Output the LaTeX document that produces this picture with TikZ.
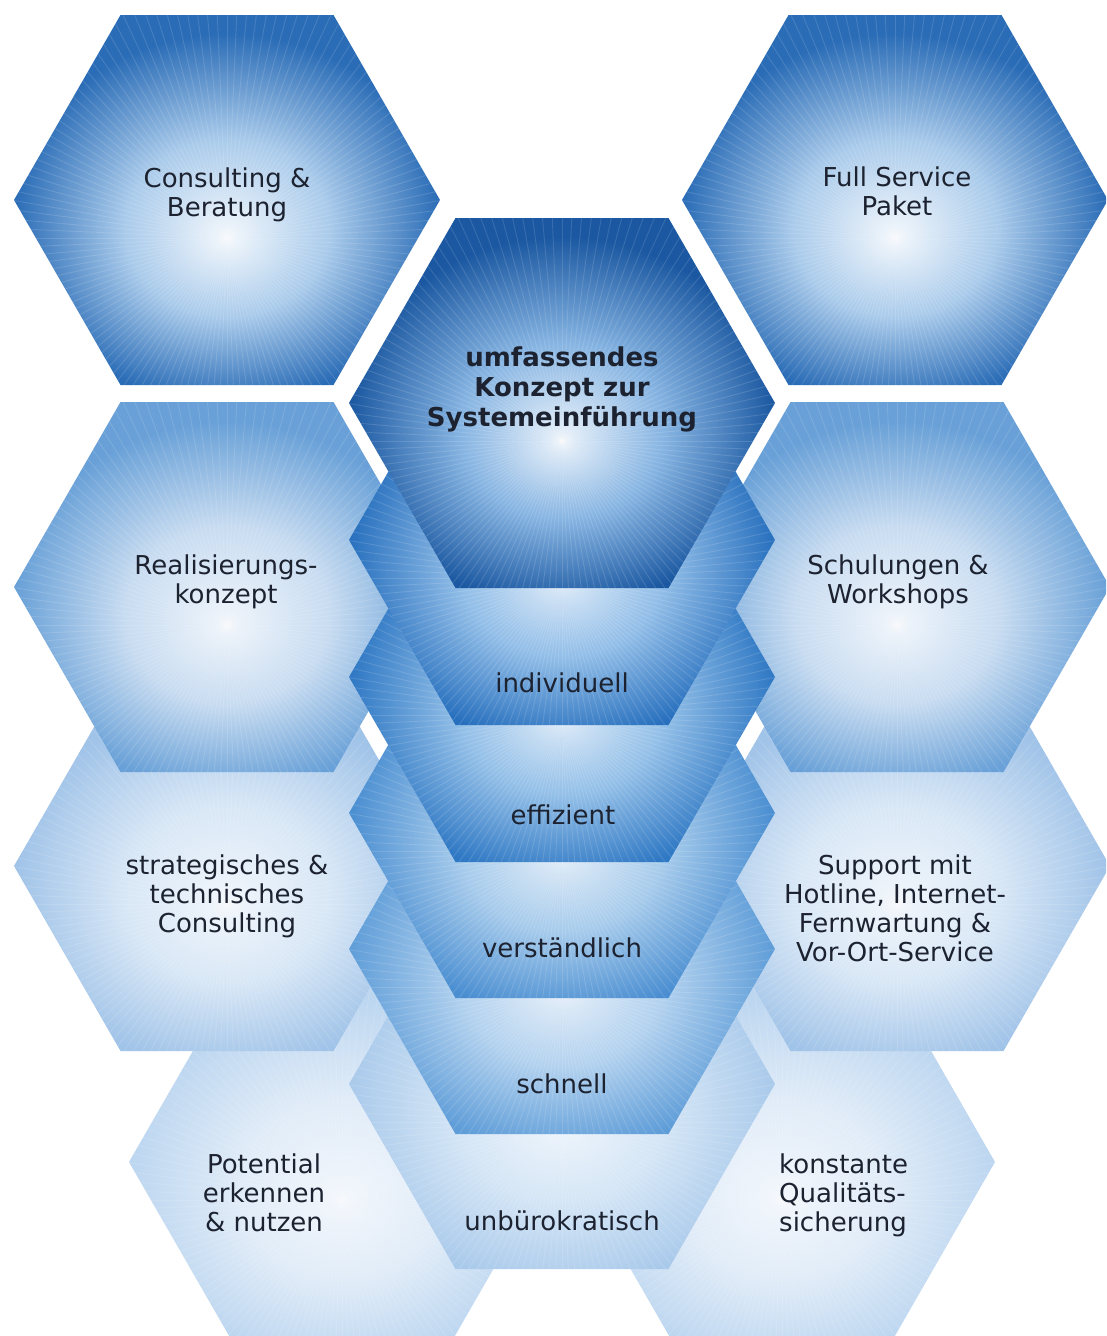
\documentclass[tikz,border=0pt]{standalone}
\usepackage{fontspec}
\setmainfont{DejaVu Sans}
\definecolor{txt}{HTML}{1C2230}
\definecolor{topI}{HTML}{F0F6FC}\definecolor{topM}{HTML}{AACBEB}\definecolor{topO}{HTML}{2A6CB6}
\definecolor{darkI}{HTML}{E6F0FA}\definecolor{darkM}{HTML}{86B4E2}\definecolor{darkO}{HTML}{1B58A1}
\definecolor{rBI}{HTML}{EEF4FB}\definecolor{rBM}{HTML}{C8DCF1}\definecolor{rBO}{HTML}{68A0D7}
\definecolor{rCI}{HTML}{EFF5FB}\definecolor{rCM}{HTML}{D8E7F6}\definecolor{rCO}{HTML}{A0C3E8}
\definecolor{rDI}{HTML}{F1F6FC}\definecolor{rDM}{HTML}{E1ECF8}\definecolor{rDO}{HTML}{BCD6F0}
\definecolor{sAI}{HTML}{DAE9F8}\definecolor{sAM}{HTML}{92BEE8}\definecolor{sAO}{HTML}{2870BE}
\definecolor{sBI}{HTML}{DAE9F8}\definecolor{sBM}{HTML}{94C0E8}\definecolor{sBO}{HTML}{2F78C4}
\definecolor{sCI}{HTML}{E0ECF8}\definecolor{sCM}{HTML}{A8CCEC}\definecolor{sCO}{HTML}{4A8ED1}
\definecolor{sDI}{HTML}{E4EEF9}\definecolor{sDM}{HTML}{B3D2EF}\definecolor{sDO}{HTML}{5F9DD8}
\definecolor{sEI}{HTML}{EDF4FB}\definecolor{sEM}{HTML}{D5E6F6}\definecolor{sEO}{HTML}{AACAEB}
\newcommand{\mkshade}[4]{\pgfdeclareradialshading{#1}{\pgfpoint{0bp}{-5bp}}{color(0bp)=(#2); color(12bp)=(#3); color(25bp)=(#4); color(50bp)=(#4)}}
\mkshade{shTop}{topI}{topM}{topO}
\mkshade{shDark}{darkI}{darkM}{darkO}
\mkshade{shRB}{rBI}{rBM}{rBO}
\mkshade{shRC}{rCI}{rCM}{rCO}
\mkshade{shRD}{rDI}{rDM}{rDO}
\mkshade{shSA}{sAI}{sAM}{sAO}
\mkshade{shSB}{sBI}{sBM}{sBO}
\mkshade{shSC}{sCI}{sCM}{sCO}
\mkshade{shSD}{sDI}{sDM}{sDO}
\mkshade{shSE}{sEI}{sEM}{sEO}
\tikzset{
  lbl/.style={font=\fontsize{26}{29}\selectfont, text=txt, align=center, inner sep=0pt},
  ray/.style={draw=white, opacity=0.13, line width=0.9pt}
}
\newcommand{\hexagon}[3]{\coordinate (#1) at (#2);
  \begin{scope}[shift={(#1)}]
  \path[clip] (-213,0) -- (-106.5,-185) -- (106.5,-185) -- (213,0) -- (106.5,185) -- (-106.5,185) -- cycle;
  \path[shading=#3] (-213,0) -- (-106.5,-185) -- (106.5,-185) -- (213,0) -- (106.5,185) -- (-106.5,185) -- cycle;
  \foreach \a in {0,2.5,...,357.5} \path[ray] (0,38) -- ++(\a:420);
  \end{scope}}
\begin{document}
\begin{tikzpicture}[x=1pt,y=-1pt]
\useasboundingbox (0,0) rectangle (1106,1336);
\clip (0,0) rectangle (1106,1336);
\fill[white] (0,0) rectangle (1106,1336);
% left column (back to front)
\hexagon{hPot}{342,1162}{shRD}
\hexagon{hStr}{227,866}{shRC}
\hexagon{hRea}{227,587}{shRB}
\hexagon{hCon}{227,200}{shTop}
% right column
\hexagon{hKon}{782,1162}{shRD}
\hexagon{hSup}{897,866}{shRC}
\hexagon{hSch}{897,587}{shRB}
\hexagon{hFul}{895,200}{shTop}
% middle stack
\hexagon{hUnb}{562,1084}{shSE}
\hexagon{hSnl}{562,949}{shSD}
\hexagon{hVer}{562,813}{shSC}
\hexagon{hEff}{562,677}{shSB}
\hexagon{hInd}{562,540}{shSA}
\hexagon{hUmf}{562,403}{shDark}
% labels
\node[lbl] (tCon) at (227,196) {\strut Consulting \&\\\strut Beratung};
\node[lbl] (tFul) at (897,195) {\strut Full Service\\\strut Paket};
\node[lbl, font=\fontsize{26}{30}\selectfont\bfseries] (tUmf) at (562,390) {\strut umfassendes\\\strut Konzept zur\\\strut Systemeinführung};
\node[lbl] (tRea) at (226,583) {\strut Realisierungs-\\\strut konzept};
\node[lbl] (tSch) at (898,583) {\strut Schulungen \&\\\strut Workshops};
\node[lbl] (tStr) at (227,898) {\strut strategisches \&\\\strut technisches\\\strut Consulting};
\node[lbl] (tSup) at (895,912) {\strut Support mit\\\strut Hotline, Internet-\\\strut Fernwartung \&\\\strut Vor-Ort-Service};
\node[lbl] (tPot) at (264,1197) {\strut Potential\\\strut erkennen\\\strut \& nutzen};
\node[lbl, align=left, anchor=west] (tKon) at (779,1197) {\strut konstante\\\strut Qualitäts-\\\strut sicherung};
\node[lbl] (tInd) at (562,687) {\strut individuell};
\node[lbl] (tEff) at (563,819) {\strut effizient};
\node[lbl] (tVer) at (562,952) {\strut verständlich};
\node[lbl] (tSnl) at (562,1088) {\strut schnell};
\node[lbl] (tUnb) at (562,1225) {\strut unbürokratisch};
\end{tikzpicture}
\end{document}
